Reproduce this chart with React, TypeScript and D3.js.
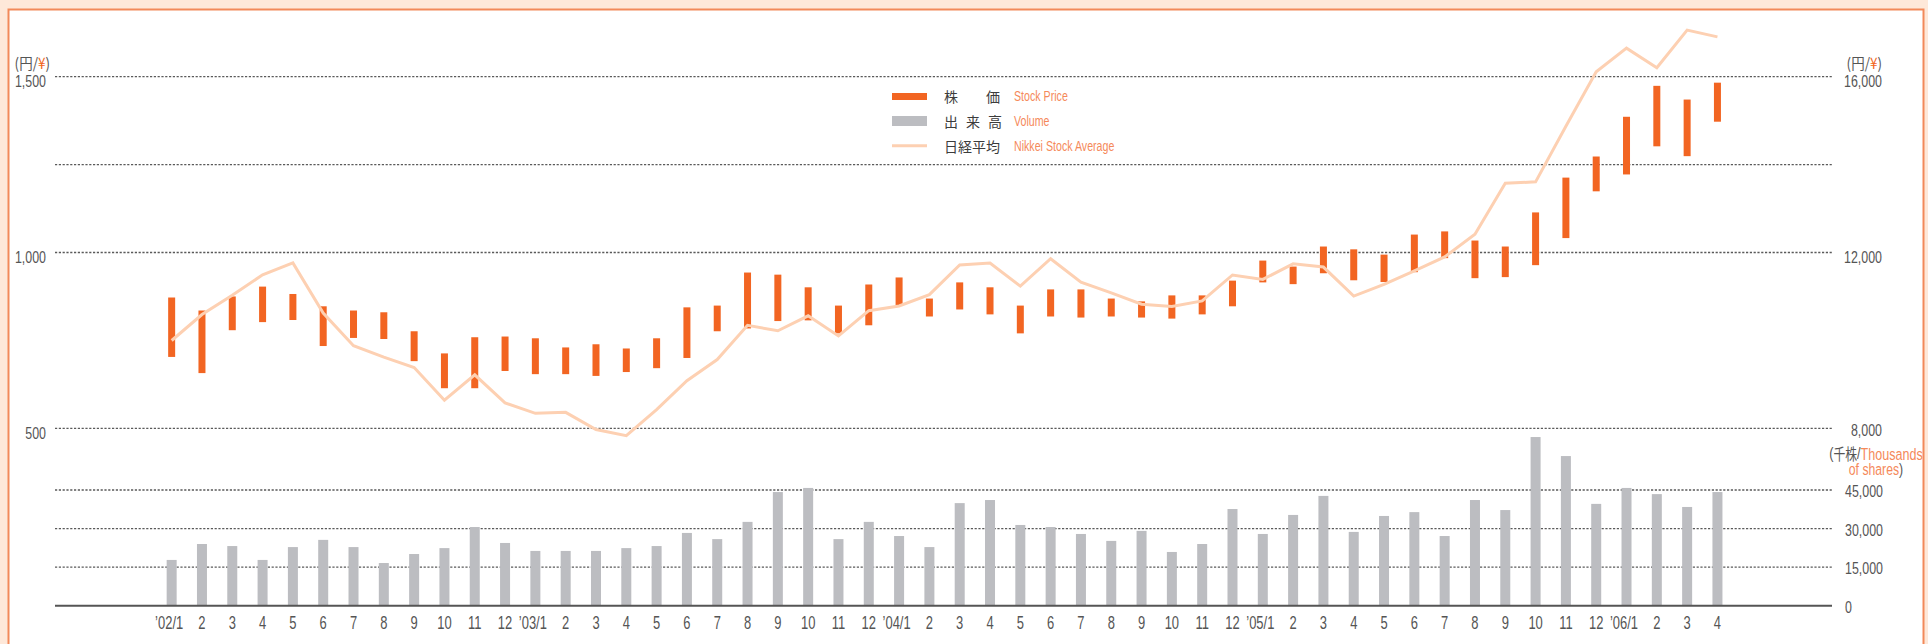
import React from 'react';
import * as d3 from 'd3';

// Month labels, '02/1 through '06/4
const tickLabels = [
  '’02/1', '2', '3', '4', '5', '6', '7', '8', '9', '10', '11', '12',
  '’03/1', '2', '3', '4', '5', '6', '7', '8', '9', '10', '11', '12',
  '’04/1', '2', '3', '4', '5', '6', '7', '8', '9', '10', '11', '12',
  '’05/1', '2', '3', '4', '5', '6', '7', '8', '9', '10', '11', '12',
  '’06/1', '2', '3', '4',
];

// Monthly high / low of the share price (yen)
const priceHigh = [
  872, 835, 875, 903, 882, 847, 835, 830, 776, 713, 759, 761,
  756, 730, 739, 727, 756, 844, 849, 943, 937, 901, 849, 909,
  929, 869, 915, 901, 849, 895, 895, 869, 861, 878, 878, 920,
  977, 960, 1017, 1009, 994, 1051, 1060, 1034, 1017, 1114, 1213, 1273,
  1386, 1474, 1435, 1483,
];
const priceLow = [
  703, 657, 779, 802, 808, 734, 757, 754, 691, 614, 614, 663,
  654, 654, 649, 660, 671, 700, 776, 784, 805, 807, 770, 793,
  849, 818, 838, 824, 770, 818, 815, 818, 815, 812, 824, 847,
  915, 910, 941, 921, 916, 944, 984, 927, 930, 964, 1041, 1174,
  1222, 1302, 1274, 1372,
];

// Nikkei Stock Average, month end (yen)
const nikkeiClose = [
  9998, 10588, 11025, 11493, 11764, 10622, 9878, 9619, 9383, 8640, 9216, 8579,
  8340, 8363, 7973, 7831, 8425, 9083, 9563, 10344, 10219, 10560, 10101, 10677,
  10784, 11042, 11715, 11762, 11236, 11859, 11326, 11082, 10824, 10771, 10899, 11489,
  11388, 11741, 11669, 11009, 11277, 11584, 11900, 12414, 13574, 13607, 14872, 16111,
  16650, 16205, 17060, 16906,
];

// Monthly trading volume (thousands of shares)
const volume = [
  17800, 24000, 23200, 17800, 22800, 25600, 22800, 16600, 20100, 22400, 30600, 24400,
  21300, 21300, 21300, 22400, 23200, 28300, 25900, 32600, 44200, 45800, 25900, 32600,
  27100, 22800, 39900, 41100, 31400, 30600, 27900, 25200, 29100, 20900, 24000, 37600,
  27900, 35300, 42700, 28700, 34900, 36400, 27100, 41100, 37200, 65600, 58200, 39600,
  45800, 43400, 38400, 44200,
];

const priceTicks = [500, 1000, 1500];
const priceGrid = [500, 1000, 1250, 1500];
const nikkeiTicks = [8000, 12000, 16000];
const volumeTicks = [0, 15000, 30000, 45000];

const W = 1928;
const H = 644;
const GRID_X0 = 55;
const GRID_X1 = 1832;

const ORANGE = '#f26522';
const ORANGE_TEXT = '#f5895a';
const GRAY_BAR = '#bcbdc1';
const NIKKEI = '#fdd0b2';
const TEXT = '#555555';
const SANS = "'Liberation Sans', Arial, sans-serif";
const CJK = "'Noto Sans CJK JP', 'Noto Sans CJK SC', sans-serif";

type TProps = {
  x: number;
  y: number;
  anchor?: 'start' | 'middle' | 'end';
  size?: number;
  sx?: number;
  fill?: string;
  family?: string;
  children: React.ReactNode;
};

// Condensed text: drawn with a horizontal squeeze around its anchor point
function T({ x, y, anchor = 'start', size = 17, sx = 0.73, fill = TEXT, family = SANS, children }: TProps) {
  return (
    <text
      transform={`translate(${x},${y}) scale(${sx},1)`}
      textAnchor={anchor}
      dominantBaseline="central"
      fontSize={size}
      fontFamily={family}
      fill={fill}
    >
      {children}
    </text>
  );
}

const fmt = d3.format(',');

export default function App() {
  const idx = d3.range(tickLabels.length);
  const x = d3.scaleBand<number>().domain(idx).range([156.5, 1732.6]).padding(0);
  const cx = (i: number) => (x(i) as number) + x.bandwidth() / 2;
  const yP = d3.scaleLinear().domain([500, 1500]).range([428.3, 76.7]);
  const yN = d3.scaleLinear().domain([8000, 16000]).range([428.3, 76.7]);
  const yV = d3.scaleLinear().domain([0, 45000]).range([605.7, 490]);

  const nikkeiPath = d3
    .line<number>()
    .x((_, i) => cx(i))
    .y((d) => yN(d))(nikkeiClose) as string;

  const priceBarW = 7;
  const volBarW = 10;

  return (
    <svg
      width={W}
      height={H}
      style={{ position: 'absolute', left: 0, top: 0, display: 'block' }}
      xmlns="http://www.w3.org/2000/svg"
    >
      {/* page frame */}
      <rect x={0} y={0} width={W} height={H} fill="#fee8d9" />
      <rect x={8.5} y={9.5} width={1915} height={660} fill="#ffffff" stroke="#f2895a" strokeWidth={2} />

      {/* price grid */}
      {priceGrid.map((v) => (
        <line
          key={`pg${v}`}
          x1={GRID_X0}
          x2={GRID_X1}
          y1={yP(v)}
          y2={yP(v)}
          stroke="#5a5a5a"
          strokeWidth={1.3}
          strokeDasharray="2.2 1.6"
        />
      ))}
      {/* volume grid */}
      {volumeTicks.filter((v) => v > 0).map((v) => (
        <line
          key={`vg${v}`}
          x1={GRID_X0}
          x2={GRID_X1}
          y1={yV(v)}
          y2={yV(v)}
          stroke="#5a5a5a"
          strokeWidth={1.3}
          strokeDasharray="2.2 1.6"
        />
      ))}

      {/* volume bars */}
      {volume.map((v, i) => (
        <rect
          key={`v${i}`}
          x={cx(i) - volBarW / 2}
          y={yV(v)}
          width={volBarW}
          height={yV(0) - yV(v)}
          fill={GRAY_BAR}
        />
      ))}
      <line x1={GRID_X0} x2={GRID_X1} y1={yV(0)} y2={yV(0)} stroke="#555" strokeWidth={2} />

      {/* high-low price bars */}
      {priceHigh.map((hi, i) => (
        <rect
          key={`p${i}`}
          x={cx(i) - priceBarW / 2}
          y={yP(hi)}
          width={priceBarW}
          height={yP(priceLow[i]) - yP(hi)}
          fill={ORANGE}
        />
      ))}

      {/* Nikkei average */}
      <path d={nikkeiPath} fill="none" stroke={NIKKEI} strokeWidth={3} strokeLinejoin="miter" />

      {/* left axis: share price */}
      <T x={50} y={62} anchor="end" size={15} sx={0.9} family={CJK}>
        (円/<tspan fill={ORANGE}>¥</tspan>)
      </T>
      {priceTicks.map((v) => (
        <T key={`pl${v}`} x={46} y={yP(v) + 5} anchor="end">
          {fmt(v)}
        </T>
      ))}

      {/* right axis: Nikkei */}
      <T x={1882} y={62} anchor="end" size={15} sx={0.9} family={CJK}>
        (円/<tspan fill={ORANGE}>¥</tspan>)
      </T>
      {nikkeiTicks.map((v) => (
        <T key={`nl${v}`} x={1882} y={yN(v) + (v === 8000 ? 1.5 : 5)} anchor="end">
          {fmt(v)}
        </T>
      ))}

      {/* right axis: volume */}
      <T x={1876} y={453} anchor="middle" size={17} sx={0.74}>
        (<tspan fontFamily={CJK} fontSize={16}>千株</tspan>/<tspan fill={ORANGE_TEXT}>Thousands</tspan>
      </T>
      <T x={1876} y={469} anchor="middle" size={17} sx={0.72}>
        <tspan fill={ORANGE_TEXT}>of shares</tspan>)
      </T>
      {volumeTicks.map((v) => (
        <T key={`vl${v}`} x={1845} y={yV(v) + 1.5} anchor="start">
          {fmt(v)}
        </T>
      ))}

      {/* month axis */}
      {tickLabels.map((t, i) => (
        <T key={`xl${i}`} x={cx(i) - (i % 12 === 0 ? 2.5 : 0)} y={623} anchor="middle" size={18} sx={0.72}>
          {t}
        </T>
      ))}

      {/* legend */}
      <rect x={892} y={93} width={35} height={7} fill={ORANGE} />
      <rect x={892} y={116} width={35} height={10} fill={GRAY_BAR} />
      <line x1={892} x2={927} y1={145.7} y2={145.7} stroke={NIKKEI} strokeWidth={3} />
      <T x={944} y={96} size={14} sx={1} family={CJK} fill="#3c3c3c">
        株　　価
      </T>
      <T x={944} y={121} size={14} sx={1} family={CJK} fill="#3c3c3c">
        <tspan>出</tspan>
        <tspan x={22}>来</tspan>
        <tspan x={44}>高</tspan>
      </T>
      <T x={944} y={146} size={14} sx={1} family={CJK} fill="#3c3c3c">
        日経平均
      </T>
      <T x={1014} y={96} size={15} sx={0.71} fill={ORANGE_TEXT}>
        Stock Price
      </T>
      <T x={1014} y={121} size={15} sx={0.71} fill={ORANGE_TEXT}>
        Volume
      </T>
      <T x={1014} y={146} size={15} sx={0.71} fill={ORANGE_TEXT}>
        Nikkei Stock Average
      </T>
    </svg>
  );
}
